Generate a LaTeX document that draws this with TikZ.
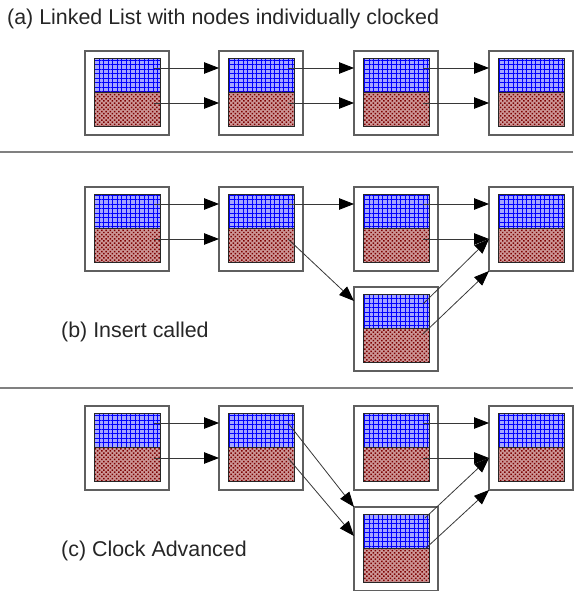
\documentclass[tikz,border=0pt]{standalone}
\usepackage{fontspec}
\setmainfont{Liberation Sans}
\usetikzlibrary{arrows.meta,patterns,patterns.meta,calc}
\definecolor{topbase}{RGB}{165,165,255}
\definecolor{gridblue}{RGB}{0,0,255}
\definecolor{botbase}{RGB}{205,150,150}
\definecolor{dotred}{RGB}{125,0,0}
\definecolor{boxgray}{RGB}{95,95,95}
\definecolor{linegray}{RGB}{55,55,55}
\tikzset{
  outerbox/.style={draw=boxgray, line width=1.1pt, minimum width=84pt, minimum height=84pt, inner sep=0pt, outer sep=0pt},
  innerline/.style={draw=black!85, line width=0.8pt},
  toppat/.style={pattern={Hatch[angle=0,distance=4.5pt,line width=0.9pt]}, pattern color=gridblue},
  botpat/.style={pattern={Dots[distance=3pt,radius=1.05pt,angle=45]}, pattern color=dotred},
  arr/.style={draw=linegray, line width=0.8pt, -{Triangle[length=15pt,width=11.5pt,color=black]}},
  sepline/.style={draw=black!50, line width=1.2pt},
  lab/.style={font=\fontsize{21.4}{25}\selectfont, text=black!85, inner sep=0pt, anchor=base west}
}
\newcommand{\llcell}[3]{%
  \begin{scope}[shift={(#2,#3)}]
    \fill[topbase] (9,7) rectangle (75,41);
    \fill[toppat] (9,7) rectangle (75,41);
    \fill[botbase] (9,41) rectangle (75,75);
    \fill[botpat] (9,41) rectangle (75,75);
    \draw[innerline] (9,7) rectangle (75,75);
    \draw[innerline] (9,41) -- (75,41);
    \node[outerbox, anchor=north west] (#1) at (0,0) {};
    \coordinate (#1-u) at (69,17);
    \coordinate (#1-l) at (69,52);
  \end{scope}}
\begin{document}
\begin{tikzpicture}[x=1pt,y=-1pt]
\useasboundingbox (0,0) rectangle (573,591);
% labels
\node[lab] (ta) at (7,25) {(a) Linked List with nodes individually clocked};
\node[lab] (tb) at (61,337) {(b) Insert called};
\node[lab] (tc) at (61,556) {(c) Clock Advanced};
% separators
\draw[sepline] (0,152) -- (573,152);
\draw[sepline] (0,388) -- (573,388);
% (a)
\llcell{A1}{85}{51}
\llcell{A2}{219}{51}
\llcell{A3}{354}{51}
\llcell{A4}{489}{51}
\draw[arr] (A1-u) -- (A1-u -| A2.west);
\draw[arr] (A1-l) -- (A1-l -| A2.west);
\draw[arr] (A2-u) -- (A2-u -| A3.west);
\draw[arr] (A2-l) -- (A2-l -| A3.west);
\draw[arr] (A3-u) -- (A3-u -| A4.west);
\draw[arr] (A3-l) -- (A3-l -| A4.west);
% (b)
\llcell{B1}{85}{187}
\llcell{B2}{219}{187}
\llcell{B3}{354}{187}
\llcell{B4}{489}{187}
\llcell{B5}{354}{287}
\coordinate (B5in) at ($(B5.north west)+(0,14)$);
\coordinate (B5lo) at ($(B5.north west)+(69,47)$);
\draw[arr] (B1-u) -- (B1-u -| B2.west);
\draw[arr] (B1-l) -- (B1-l -| B2.west);
\draw[arr] (B2-u) -- (B2-u -| B3.west);
\draw[arr] (B2-l) -- (B5in);
\draw[arr] (B3-u) -- (B3-u -| B4.west);
\draw[arr] (B3-l) -- (B3-l -| B4.west);
\draw[arr] (B5-u) -- (B3-l -| B4.west);
\draw[arr] (B5lo) -- (B4.south west);
% (c)
\llcell{C1}{85}{406}
\llcell{C2}{219}{406}
\llcell{C3}{354}{406}
\llcell{C4}{489}{406}
\llcell{C5}{354}{507}
\coordinate (C5in) at ($(C5.north west)+(0,29)$);
\coordinate (C5up) at ($(C5.north west)+(71,11)$);
\coordinate (C5lo) at ($(C5.north west)+(71,42)$);
\draw[arr] (C1-u) -- (C1-u -| C2.west);
\draw[arr] (C1-l) -- (C1-l -| C2.west);
\draw[arr] (C2-u) -- (C5.north west);
\draw[arr] (C2-l) -- (C5in);
\draw[arr] (C3-u) -- (C3-u -| C4.west);
\draw[arr] (C3-l) -- (C3-l -| C4.west);
\draw[arr] (C5up) -- (C3-l -| C4.west);
\draw[arr] (C5lo) -- (C4.south west);
\end{tikzpicture}
\end{document}
